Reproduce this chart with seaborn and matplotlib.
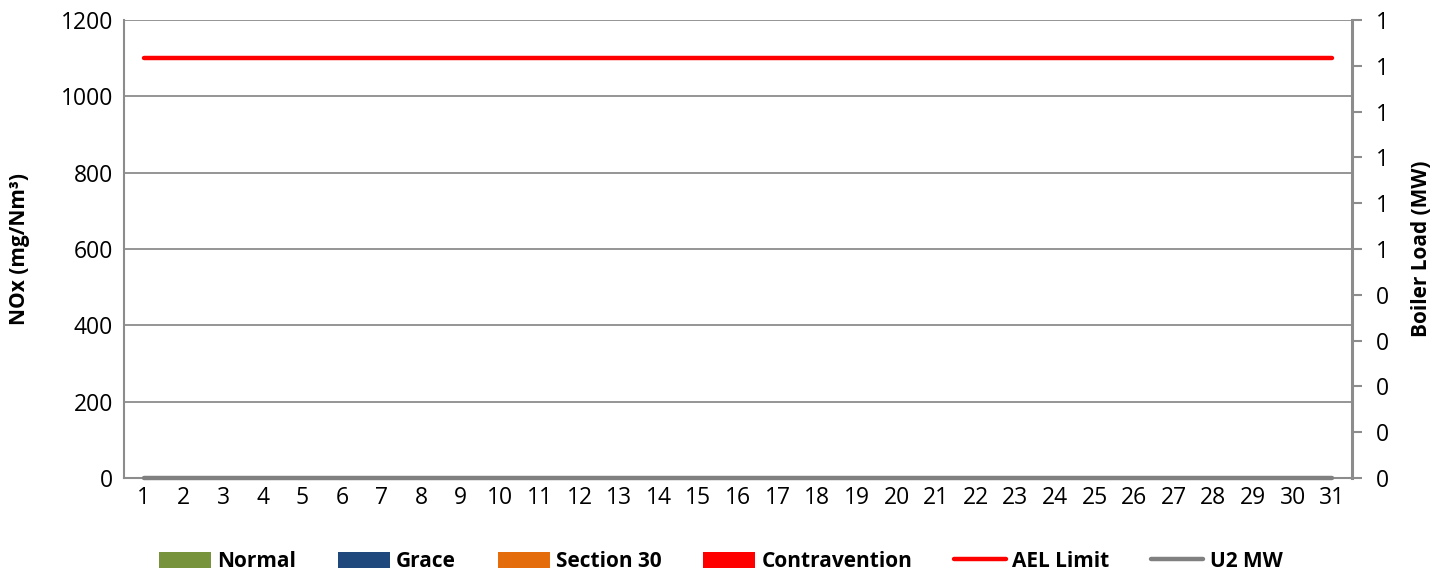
import numpy as np
import pandas as pd
import seaborn as sns
import matplotlib
matplotlib.use("Agg")
import matplotlib.pyplot as plt
from matplotlib.patches import Patch
from matplotlib.lines import Line2D
from matplotlib.ticker import FuncFormatter, MultipleLocator

# Daily NOx emissions by compliance category (mg/Nm³) and unit load (MW)
days = [str(d) for d in range(1, 32)]
normal = [0] * 31
grace = [0] * 31
section30 = [0] * 31
contravention = [0] * 31
ael_limit = [1100] * 31
u2_mw = [0] * 31

series_names = ["Normal", "Grace", "Section 30", "Contravention"]
series_colors = ["#77933C", "#1F497D", "#E46C0A", "#FF0000"]
ael_color = "#FF0000"
mw_color = "#808080"
grid_color = "#8C8C8C"

sns.set_theme(style="white")
plt.rcParams["font.family"] = ["Open Sans", "DejaVu Sans"]
plt.rcParams["text.color"] = "black"
plt.rcParams["axes.labelcolor"] = "black"

df = pd.DataFrame({
    "Day": days,
    "Normal": normal,
    "Grace": grace,
    "Section 30": section30,
    "Contravention": contravention,
    "AEL": ael_limit,
    "MW": u2_mw,
})
df["pos"] = np.arange(len(days))

fig = plt.figure(figsize=(14.47, 5.74), dpi=100)
ax = fig.add_axes([0.0857, 0.1672, 0.8487, 0.798])

# Stacked bars for the compliance categories
bottom = np.zeros(len(days))
for name, color in zip(series_names, series_colors):
    sns.barplot(data=df, x="Day", y=name, color=color, bottom=bottom,
                width=0.6, ax=ax, zorder=2)
    bottom = bottom + df[name].to_numpy()

# AEL limit line
sns.lineplot(x=df["pos"], y=df["AEL"], color=ael_color, linewidth=3.2,
             ax=ax, zorder=4, solid_capstyle="round")

ax.set_xlim(-0.5, len(days) - 0.5)
ax.set_ylim(0, 1200)
ax.yaxis.set_major_locator(MultipleLocator(200))
ax.grid(axis="y", color=grid_color, linewidth=1.3, zorder=0)
ax.grid(axis="x", visible=False)
ax.set_axisbelow(True)
for side in ["top", "right"]:
    ax.spines[side].set_visible(False)
for side in ["left", "bottom"]:
    ax.spines[side].set_color(grid_color)
    ax.spines[side].set_linewidth(1.5)
ax.tick_params(axis="both", length=0, labelsize=16.5, colors="black")
ax.tick_params(axis="x", pad=6)
ax.tick_params(axis="y", pad=8)
ax.set_xlabel("")
ax.set_ylabel("NOx (mg/Nm³)", fontsize=15, fontweight="bold", labelpad=22)

# Secondary axis for boiler load
ax2 = ax.twinx()
sns.lineplot(x=df["pos"], y=df["MW"], color=mw_color, linewidth=3.2,
             ax=ax2, zorder=3, solid_capstyle="round", clip_on=False)
ax2.set_xlim(-0.5, len(days) - 0.5)
ax2.set_ylim(0, 1)
ax2.yaxis.set_major_locator(MultipleLocator(0.1))
ax2.yaxis.set_major_formatter(FuncFormatter(lambda v, p: f"{int(np.floor(v + 0.5 + 1e-9))}"))
for side in ["top", "left", "bottom"]:
    ax2.spines[side].set_visible(False)
ax2.spines["right"].set_color(grid_color)
ax2.spines["right"].set_linewidth(2.2)
ax2.tick_params(axis="y", length=7, width=1.5, color=grid_color, labelsize=16.5,
                labelcolor="black", pad=10)
ax2.grid(False)
ax2.set_ylabel("Boiler Load (MW)", fontsize=15, fontweight="bold", labelpad=16)

handles = [Patch(facecolor=c, edgecolor="none") for c in series_colors]
handles += [Line2D([0], [0], color=ael_color, linewidth=3.2, solid_capstyle="round"),
            Line2D([0], [0], color=mw_color, linewidth=3.2, solid_capstyle="round")]
labels = series_names + ["AEL Limit", "U2 MW"]
fig.legend(handles, labels, loc="center", bbox_to_anchor=(0.498, 0.022), ncol=6,
           frameon=False, prop={"weight": "bold", "size": 15},
           handlelength=2.5, handleheight=0.8, handletextpad=0.3, columnspacing=2.0)

fig.savefig("out.png", dpi=100)
